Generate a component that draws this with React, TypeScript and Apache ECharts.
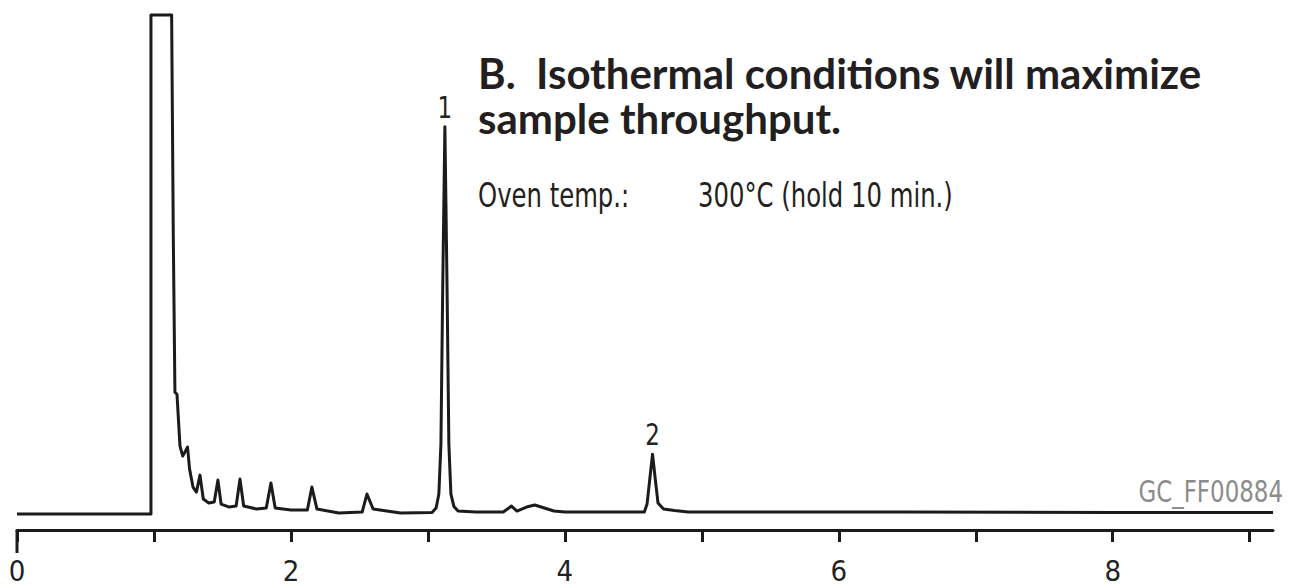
import React, { useEffect, useRef } from "react";
import * as echarts from "echarts";

// Retention time (min) and detector response (relative units)
const retentionTimes = [
  0, 0.978, 0.978, 1.129, 1.141, 1.153, 1.168, 1.19, 1.21, 1.245, 1.26, 1.285, 1.31, 1.336, 1.36, 1.4,
  1.44, 1.467, 1.49, 1.55, 1.6, 1.628, 1.655, 1.75, 1.82, 1.854, 1.885, 2.0, 2.12, 2.153, 2.19, 2.35,
  2.52, 2.555, 2.6, 2.7, 2.8, 3.03, 3.06, 3.08, 3.095, 3.108, 3.124, 3.14, 3.153, 3.168, 3.19, 3.22, 3.35, 3.55,
  3.61, 3.65, 3.72, 3.78, 3.85, 3.92, 4.0, 4.58, 4.6, 4.62, 4.64, 4.66, 4.68, 4.72, 4.8, 4.9,
  5.5, 6.5, 8.0, 9.17,
];
const detectorSignal = [
  0, 0, 100, 100, 56, 24.4, 24, 13.6, 11.6, 13.4, 9, 5.4, 4.4, 7.8, 3, 2.2,
  2.4, 6.8, 2, 1.4, 1.6, 7, 1.6, 1.0, 1.2, 6.2, 1.2, 0.8, 0.8, 5.4, 1, 0.2,
  0.4, 4, 1, 0.6, 0.2, 0.3, 1.2, 4, 14, 45, 77.6, 45, 14, 4, 1.5, 0.6, 0.4, 0.4,
  1.6, 0.6, 1.4, 1.8, 1.2, 0.6, 0.4, 0.4, 2, 7, 12, 7, 2.2, 1.0, 0.7, 0.4,
  0.4, 0.4, 0.3, 0.3,
];

const tickValues = [0, 1, 2, 3, 4, 5, 6, 7, 8, 9];
const labelValues = [0, 2, 4, 6, 8];

const peakLabels = ["1", "2"];
const peakTimes = [3.124, 4.64];
const peakHeights = [77.6, 12];

const titleText = "B.  Isothermal conditions will maximize\nsample throughput.";
const conditionLabel = "Oven temp.:";
const conditionValue = "300°C (hold 10 min.)";
const figureCode = "GC_FF00884";

const NARROW = "'Liberation Sans Narrow', 'DejaVu Sans Condensed', sans-serif";
const BOLD = "Lato, 'Open Sans', sans-serif";
const INK = "#1b1b1b";

export default function App() {
  const ref = useRef<HTMLDivElement>(null);

  useEffect(() => {
    const chart = echarts.init(ref.current!, null, { renderer: "svg" });
    chart.setOption({
      animation: false,
      backgroundColor: "#ffffff",
      grid: { left: 17, right: 16, top: 15, bottom: 58, containLabel: false },
      xAxis: {
        type: "value",
        min: 0,
        max: 9.17,
        interval: 1,
        axisLine: { show: true, onZero: false, lineStyle: { color: INK, width: 3 } },
        axisTick: {
          show: true,
          length: 12,
          customValues: tickValues,
          lineStyle: { color: INK, width: 3 },
        },
        axisLabel: {
          customValues: labelValues,
          margin: 26,
          color: "#222",
          fontSize: 29,
          lineHeight: 29,
          fontFamily: NARROW,
        },
        splitLine: { show: false },
      },
      yAxis: { type: "value", min: -3.2, max: 100, show: false },
      series: [
        {
          type: "line",
          data: retentionTimes.map((t, i) => [t, detectorSignal[i]]),
          showSymbol: false,
          symbol: "none",
          clip: false,
          lineStyle: { color: INK, width: 3, join: "round" },
        },
      ],
    });

    const x0 = chart.convertToPixel({ xAxisIndex: 0 }, 0) as number;
    const yAxisLine = chart.convertToPixel({ yAxisIndex: 0 }, -3.2) as number;

    const graphics: any[] = [
      {
        type: "line",
        shape: { x1: x0, y1: yAxisLine, x2: x0, y2: yAxisLine + 23 },
        style: { stroke: INK, lineWidth: 3 },
      },
    ];

    peakLabels.forEach((lab, i) => {
      const [px, py] = chart.convertToPixel({ gridIndex: 0 }, [peakTimes[i], peakHeights[i]]) as number[];
      graphics.push({
        type: "text",
        x: px,
        y: py - 4,
        scaleX: 0.85,
        style: {
          text: lab,
          fill: "#222",
          fontSize: 30,
          fontFamily: NARROW,
          align: "center",
          verticalAlign: "bottom",
        },
      });
    });

    graphics.push(
      {
        type: "text",
        x: 478,
        y: 95.5,
        style: {
          text: titleText,
          fill: "#231f20",
          fontSize: 42,
          lineHeight: 45,
          fontWeight: "bold",
          fontFamily: BOLD,
          verticalAlign: "middle",
        },
      },
      {
        type: "text",
        x: 478,
        y: 196,
        scaleX: 0.82,
        style: { text: conditionLabel, fill: "#231f20", fontSize: 33, fontFamily: NARROW, verticalAlign: "middle" },
      },
      {
        type: "text",
        x: 698,
        y: 196,
        scaleX: 0.82,
        style: { text: conditionValue, fill: "#231f20", fontSize: 33, fontFamily: NARROW, verticalAlign: "middle" },
      },
      {
        type: "text",
        x: 1283,
        y: 492,
        scaleX: 0.85,
        style: { text: figureCode, fill: "#8c8c8c", fontSize: 30, fontFamily: NARROW, align: "right", verticalAlign: "middle" },
      }
    );

    chart.setOption({ graphic: graphics });

    return () => chart.dispose();
  }, []);

  return <div ref={ref} style={{ position: "absolute", left: 0, top: 0, width: 1289, height: 588 }} />;
}
